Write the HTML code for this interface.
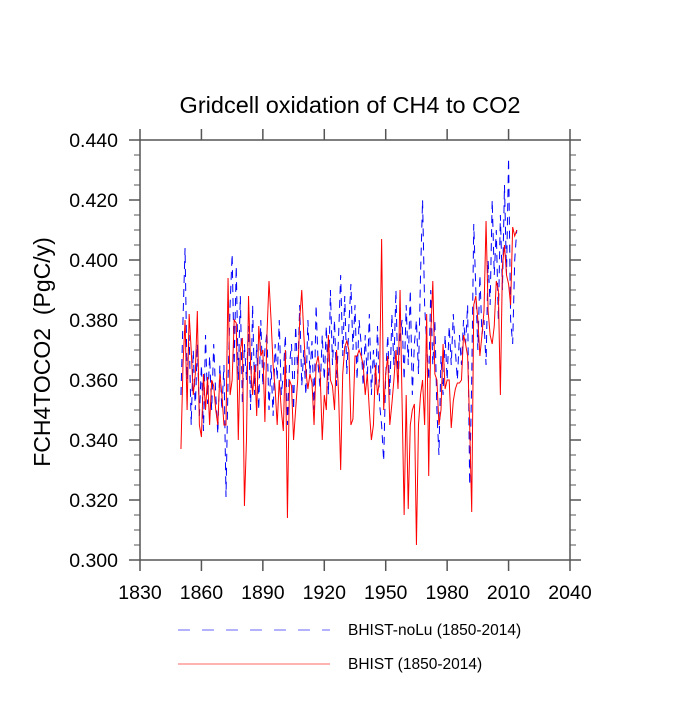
<!DOCTYPE html>
<html><head><meta charset="utf-8"><style>
body{margin:0;background:#fff;}
svg text{font-family:"Liberation Sans",sans-serif;fill:#000;}
</style></head><body>
<svg id="chart" width="700" height="700" xmlns="http://www.w3.org/2000/svg">
<rect width="700" height="700" fill="#fff"/>
<text x="350" y="113" font-size="23.5" text-anchor="middle">Gridcell oxidation of CH4 to CO2</text>
<text transform="translate(50,352) rotate(-90)" font-size="23" text-anchor="middle" xml:space="preserve">FCH4TOCO2  (PgC/y)</text>
<g id="axes"></g>
<g id="series"></g>
<g>
<line x1="178" y1="630" x2="330" y2="630" stroke="#6666ff" stroke-width="1" stroke-dasharray="12,12"/>
<text x="348" y="635" font-size="15.5">BHIST-noLu (1850-2014)</text>
<line x1="178" y1="664" x2="330" y2="664" stroke="#ff6666" stroke-width="1"/>
<text x="348" y="669" font-size="15.5">BHIST (1850-2014)</text>
</g>
</svg>
<script>
const startYear = 1850;
const xTicks = [1830,1860,1890,1920,1950,1980,2010,2040];
const yTicks = [0.300,0.320,0.340,0.360,0.380,0.400,0.420,0.440];
const bhist = [
.337,.365,.380,.350,.382,.370,.355,.362,.383,.345,
.341,.362,.350,.361,.345,.360,.358,.350,.345,.362,
.355,.345,.345,.394,.355,.360,.380,.379,.340,.370,
.374,.318,.340,.388,.365,.355,.365,.348,.378,.368,
.370,.346,.375,.393,.380,.365,.357,.345,.360,.350,
.343,.370,.314,.360,.358,.340,.350,.360,.380,.390,
.375,.363,.357,.362,.359,.345,.365,.368,.362,.340,
.355,.350,.375,.360,.358,.350,.370,.355,.330,.362,
.371,.373,.370,.345,.347,.368,.368,.370,.368,.365,
.355,.362,.350,.340,.345,.365,.355,.360,.407,.350,
.362,.368,.345,.352,.360,.370,.357,.390,.352,.315,
.355,.317,.345,.350,.352,.305,.345,.355,.360,.345,
.382,.328,.375,.393,.362,.360,.345,.350,.372,.357,
.360,.360,.344,.353,.357,.359,.359,.360,.375,.372,
.368,.345,.316,.385,.388,.380,.368,.375,.383,.413,
.383,.375,.372,.378,.393,.390,.355,.398,.405,.395,
.392,.385,.411,.408,.410];
const bhistNoLu = [
.355,.380,.404,.360,.375,.345,.370,.350,.372,.348,
.365,.343,.375,.352,.368,.350,.372,.355,.342,.365,
.350,.365,.321,.360,.385,.402,.365,.398,.360,.388,
.352,.372,.360,.378,.350,.385,.355,.372,.350,.380,
.358,.370,.376,.350,.365,.348,.372,.360,.380,.355,
.362,.375,.345,.365,.372,.350,.378,.362,.385,.358,
.370,.355,.380,.362,.373,.350,.385,.365,.357,.375,
.360,.378,.355,.390,.365,.380,.358,.375,.395,.368,
.388,.362,.378,.392,.370,.385,.360,.380,.372,.358,
.375,.360,.382,.355,.370,.358,.378,.352,.345,.333,
.362,.375,.355,.382,.365,.390,.358,.375,.380,.360,
.385,.365,.390,.355,.372,.380,.362,.395,.420,.385,
.372,.360,.390,.365,.380,.350,.335,.368,.355,.375,
.360,.378,.365,.382,.370,.360,.375,.365,.380,.372,
.385,.325,.360,.412,.390,.370,.395,.375,.380,.365,
.400,.385,.420,.395,.410,.380,.415,.390,.425,.395,
.434,.380,.372,.400,.410];

const X0=140,X1=570,Y0=560,Y1=140;
const xMin=1830,xMax=2040,yMin=0.300,yMax=0.440;
function sx(v){return X0+(v-xMin)/(xMax-xMin)*(X1-X0);}
function sy(v){return Y0-(v-yMin)/(yMax-yMin)*(Y0-Y1);}
const NS="http://www.w3.org/2000/svg";
const axes=document.getElementById('axes');
function mk(tag,attrs,parent){const e=document.createElementNS(NS,tag);for(const k in attrs)e.setAttribute(k,attrs[k]);parent.appendChild(e);return e;}
const frame=mk('rect',{x:X0,y:Y1,width:X1-X0,height:Y0-Y1,fill:'none',stroke:'#555','stroke-width':1.5},axes);


xTicks.forEach(t=>{
  const x=sx(t);
  const a=mk('line',{x1:x,y1:Y0,x2:x,y2:Y0+11,stroke:'#555','stroke-width':1.5},axes);
  
  
  const b=mk('line',{x1:x,y1:Y1,x2:x,y2:Y1-11,stroke:'#555','stroke-width':1.5},axes);
  
  
  const l=mk('text',{x:x,y:599,'font-size':19.5,'text-anchor':'middle'},axes);
  l.textContent=t;
  
  
});
for(let v=yMin;v<=yMax+1e-9;v+=0.005){
  const y=sy(v);
  const major=Math.abs(Math.round(v*1000)%20)<1e-6;
  const len=major?11:6;
  const a=mk('line',{x1:X0-len,y1:y,x2:X0,y2:y,stroke:'#555','stroke-width':major?1.5:1},axes);
  
  
  const b=mk('line',{x1:X1,y1:y,x2:X1+len,y2:y,stroke:'#555','stroke-width':major?1.5:1},axes);
  
  
}
yTicks.forEach(t=>{
  const l=mk('text',{x:118,y:sy(t)+7,'font-size':19.5,'text-anchor':'end'},axes);
  l.textContent=t.toFixed(3);
  
  
});
const series=document.getElementById('series');
function path(arr){return arr.map((v,i)=>(i?'L':'M')+sx(startYear+i).toFixed(2)+','+sy(v).toFixed(2)).join('');}
const pb=mk('path',{d:path(bhistNoLu),fill:'none',stroke:'#0000ff','stroke-width':1,'stroke-dasharray':'8,6'},series);


const pr=mk('path',{d:path(bhist),fill:'none',stroke:'#ff0000','stroke-width':1},series);


</script>
</body></html>
